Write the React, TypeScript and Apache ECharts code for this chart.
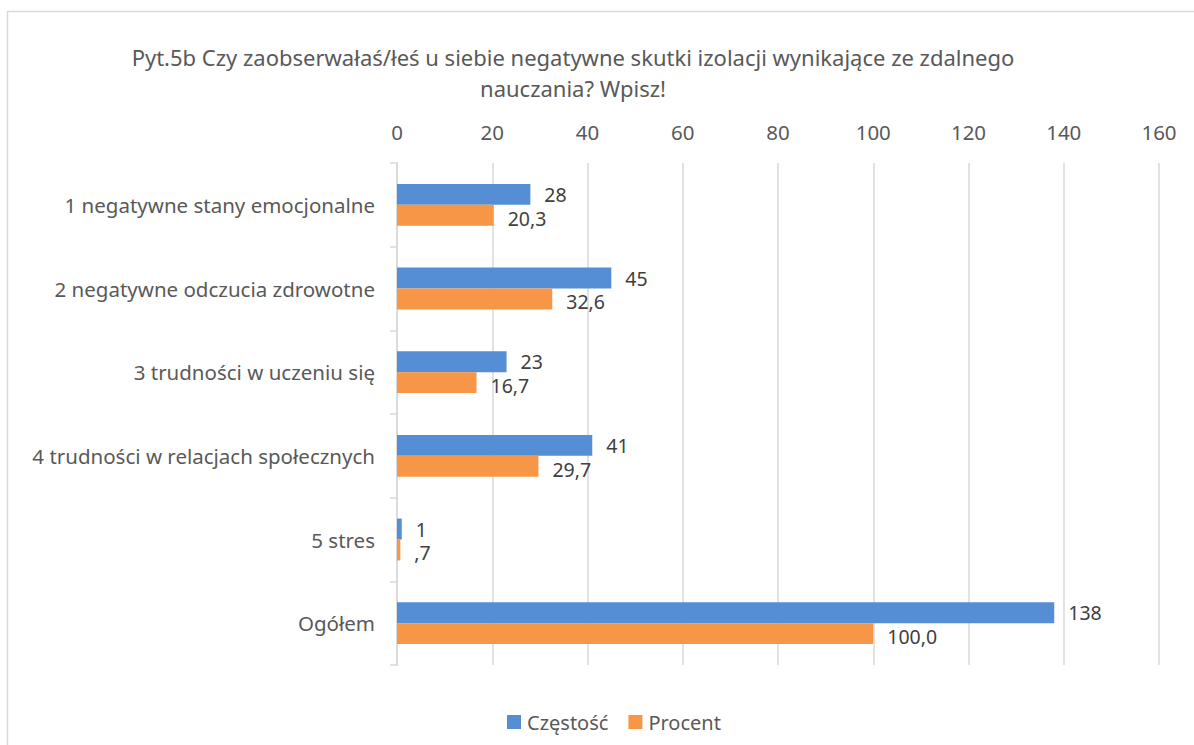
import React, { useEffect, useRef } from "react";
import * as echarts from "echarts";

const titleText =
  "Pyt.5b Czy zaobserwałaś/łeś u siebie negatywne skutki izolacji wynikające ze zdalnego\nnauczania? Wpisz!";
const categories = [
  "1 negatywne stany emocjonalne",
  "2 negatywne odczucia zdrowotne",
  "3 trudności w uczeniu się",
  "4 trudności w relacjach społecznych",
  "5 stres",
  "Ogółem",
];
const seriesNames = ["Częstość", "Procent"];
const frequency = [28, 45, 23, 41, 1, 138];
const percent = [20.3, 32.6, 16.7, 29.7, 0.7, 100.0];
const axisMin = 0;
const axisMax = 160;
const axisStep = 20;

const FONT = "'Noto Sans', 'Open Sans', sans-serif";

function fmtPercent(v: number): string {
  let s = v.toFixed(1).replace(".", ",");
  if (s.startsWith("0,")) s = s.slice(1);
  return s;
}

export default function App() {
  const ref = useRef<HTMLDivElement>(null);
  useEffect(() => {
    if (!ref.current) return;
    const chart = echarts.init(ref.current, null, { renderer: "svg" });
    chart.setOption({
      animation: false,
      backgroundColor: "#ffffff",
      textStyle: { fontFamily: FONT },
      title: {
        text: titleText,
        left: 568,
        top: 36,
        textAlign: "center",
        textStyle: {
          fontFamily: FONT,
          fontSize: 22,
          fontWeight: "normal",
          color: "#595959",
          lineHeight: 31,
        },
      },
      graphic: [
        {
          type: "rect",
          shape: { x: 7.5, y: 11.5, width: 1250, height: 800 },
          style: { fill: "none", stroke: "#d9d9d9", lineWidth: 1.5 },
          silent: true,
        },
      ],
      legend: {
        data: seriesNames,
        left: 502,
        top: 707,
        icon: "rect",
        itemWidth: 14,
        itemHeight: 14,
        itemGap: 20,
        itemStyle: { borderWidth: 0 },
        textStyle: { fontFamily: FONT, fontSize: 20, color: "#595959", padding: [0, 0, 0, 1] },
      },
      grid: { left: 397, right: 35, top: 163, bottom: 80 },
      xAxis: {
        type: "value",
        position: "top",
        min: axisMin,
        max: axisMax,
        interval: axisStep,
        axisLine: { show: false },
        axisTick: { show: false },
        axisLabel: { fontFamily: FONT, fontSize: 20.5, color: "#595959", margin: 21 },
        splitLine: { show: true, lineStyle: { color: "#d9d9d9", width: 1.5 } },
      },
      yAxis: {
        type: "category",
        data: categories,
        inverse: true,
        axisLine: { show: true, lineStyle: { color: "#d9d9d9", width: 1.5 } },
        axisTick: { show: true, length: 7, lineStyle: { color: "#d9d9d9", width: 1.5 } },
        axisLabel: { fontFamily: FONT, fontSize: 20.5, color: "#595959", margin: 22 },
      },
      series: [
        {
          name: seriesNames[0],
          type: "bar",
          data: frequency,
          barGap: "0%",
          barCategoryGap: "50%",
          itemStyle: { color: "#558ed5" },
          label: {
            show: true,
            position: "right",
            distance: 14,
            fontFamily: FONT,
            fontSize: 19.5,
            lineHeight: 18,
            color: "#404040",
            offset: [0, 0],
          },
        },
        {
          name: seriesNames[1],
          type: "bar",
          data: percent,
          barGap: "0%",
          barCategoryGap: "50%",
          itemStyle: { color: "#f79646" },
          label: {
            show: true,
            position: "right",
            distance: 14,
            fontFamily: FONT,
            fontSize: 19.5,
            lineHeight: 18,
            color: "#404040",
            offset: [0, 3],
            formatter: (p: any) => fmtPercent(p.value),
          },
        },
      ],
    });
    return () => chart.dispose();
  }, []);
  return (
    <div
      ref={ref}
      style={{ position: "absolute", left: 0, top: 0, width: 1194, height: 745 }}
    />
  );
}
